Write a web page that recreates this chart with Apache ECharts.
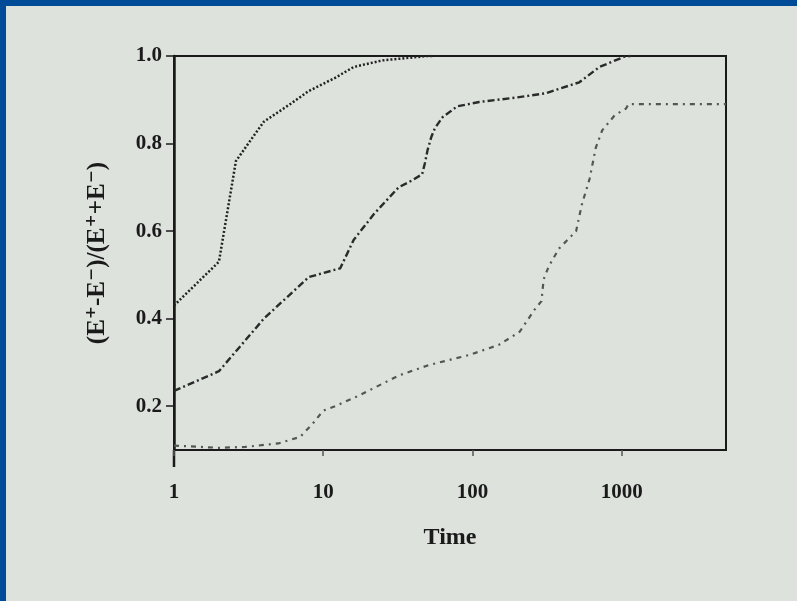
<!DOCTYPE html>
<html><head><meta charset="utf-8">
<script src="https://cdn.jsdelivr.net/npm/echarts@6/dist/echarts.min.js"></script>
<style>html,body{margin:0;padding:0;background:#dde2dd;}#c{width:797px;height:601px;}</style>
</head><body><div id="c"></div>
<script>
// Data
const xTicks = [1, 10, 100, 1000];
const yTicks = [0.2, 0.4, 0.6, 0.8, 1.0];
const s1T = [1, 2, 2.6, 3.3, 4, 6, 8, 12, 16, 25, 50, 55];
const s1V = [0.43, 0.53, 0.76, 0.81, 0.85, 0.89, 0.92, 0.95, 0.975, 0.99, 1.0, 1.0];
const s2T = [1, 2, 4, 8, 13, 16, 22, 32, 40, 46, 48, 50, 53, 56, 63, 79, 111, 196, 310, 520, 710, 1070, 1150];
const s2V = [0.235, 0.28, 0.40, 0.495, 0.515, 0.58, 0.64, 0.70, 0.717, 0.73, 0.755, 0.785, 0.815, 0.835, 0.86, 0.885, 0.895, 0.905, 0.915, 0.94, 0.975, 1.0, 1.0];
const s3T = [1, 2, 3, 5, 7, 8.5, 10, 12, 17.5, 32, 51, 95, 150, 207, 260, 290, 300, 325, 380, 495, 540, 610, 670, 740, 900, 1070, 1110, 1500, 2500, 5000];
const s3V = [0.11, 0.105, 0.107, 0.115, 0.13, 0.16, 0.19, 0.20, 0.225, 0.27, 0.294, 0.317, 0.34, 0.37, 0.42, 0.44, 0.49, 0.52, 0.56, 0.60, 0.66, 0.72, 0.79, 0.83, 0.865, 0.88, 0.89, 0.89, 0.89, 0.89];

const zip = (a, b) => a.map((t, i) => [t, b[i]]);
const font = '"Liberation Serif", "DejaVu Serif", serif';
const chart = echarts.init(document.getElementById('c'), null, {renderer: 'canvas'});
chart.setOption({
  backgroundColor: '#dde2dd',
  animation: false,
  graphic: [
    {type: 'rect', left: 0, top: 0, shape: {width: 6, height: 601}, style: {fill: '#004b98'}},
    {type: 'rect', left: 0, top: 0, shape: {width: 797, height: 6}, style: {fill: '#004b98'}},
    {type: 'line', shape: {x1: 174, y1: 450, x2: 174, y2: 467}, style: {stroke: '#1a1a1a', lineWidth: 2.5}}
  ],
  grid: {left: 174, top: 56, right: 71, bottom: 151, show: true, borderColor: '#1a1a1a', borderWidth: 2, backgroundColor: 'transparent'},
  xAxis: {
    type: 'log', logBase: 10, min: 1, max: 5000,
    name: 'Time', nameLocation: 'middle', nameGap: 76,
    nameTextStyle: {fontFamily: font, fontSize: 24, fontWeight: 'bold', color: '#1a1a1a'},
    axisLine: {show: true, lineStyle: {color: '#1a1a1a', width: 2}},
    axisTick: {show: true, inside: false, length: 6, customValues: xTicks, lineStyle: {color: '#555', width: 1.5}},
    minorTick: {show: false},
    splitLine: {show: false},
    axisLabel: {customValues: xTicks, margin: 32, fontFamily: font, fontSize: 21, fontWeight: 'bold', color: '#1a1a1a', formatter: v => String(Math.round(v))}
  },
  yAxis: {
    type: 'value', min: 0.1, max: 1.0,
    name: '(E⁺-E⁻)/(E⁺+E⁻)', nameLocation: 'middle', nameGap: 64, nameRotate: 90,
    nameTextStyle: {fontFamily: font, fontSize: 25, fontWeight: 'bold', color: '#1a1a1a'},
    axisLine: {show: true, lineStyle: {color: '#1a1a1a', width: 2.5}},
    axisTick: {show: true, inside: false, length: 8, customValues: yTicks, lineStyle: {color: '#1a1a1a', width: 1.5}},
    splitLine: {show: false},
    axisLabel: {customValues: yTicks, margin: 12, fontFamily: font, fontSize: 21, fontWeight: 'bold', color: '#1a1a1a', formatter: v => v.toFixed(1)}
  },
  series: [
    {type: 'line', data: zip(s1T, s1V), showSymbol: false, lineStyle: {color: '#222', width: 2.5, type: [2, 2]}},
    {type: 'line', data: zip(s2T, s2V), showSymbol: false, lineStyle: {color: '#2a2a2a', width: 2.4, type: [7, 3, 2, 3]}},
    {type: 'line', data: zip(s3T, s3V), showSymbol: false, lineStyle: {color: '#555', width: 2.2, type: [5, 5, 2, 5]}}
  ]
});
</script></body></html>
